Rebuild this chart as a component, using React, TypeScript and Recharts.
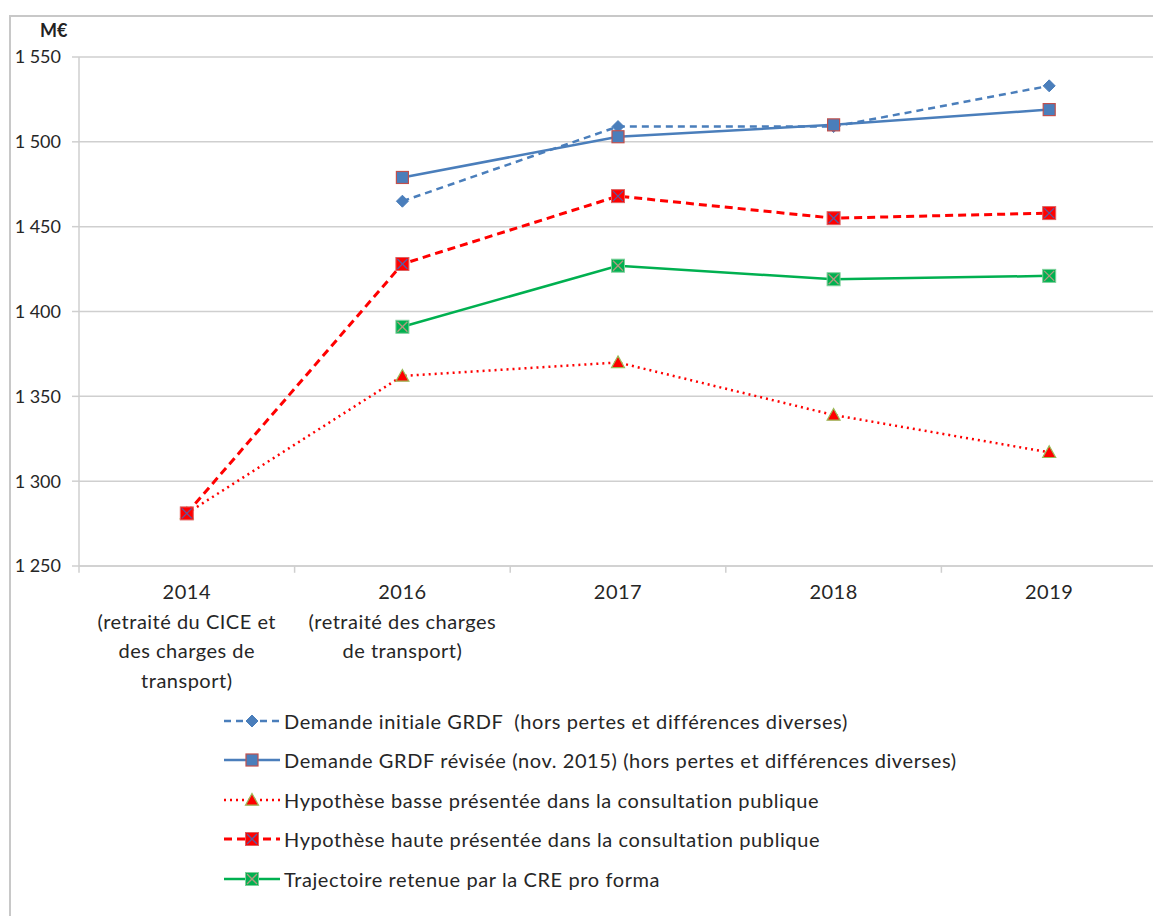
import React from 'react';
import { LineChart, Line, XAxis, YAxis, CartesianGrid, ReferenceLine, Legend } from 'recharts';

const categories = ['2014', '2016', '2017', '2018', '2019'];
const categoryLabels: string[][] = [
  ['2014', '(retraité du CICE et', 'des charges de', 'transport)'],
  ['2016', '(retraité des charges', 'de transport)'],
  ['2017'],
  ['2018'],
  ['2019'],
];
const demandeInitiale = [null, 1465, 1509, 1509, 1533];
const demandeRevisee = [null, 1479, 1503, 1510, 1519];
const hypBasse = [1281, 1362, 1370, 1339, 1317];
const hypHaute = [1281, 1428, 1468, 1455, 1458];
const trajectoire = [null, 1391, 1427, 1419, 1421];
const yTicks = [1250, 1300, 1350, 1400, 1450, 1500, 1550];
const boundaries = [-0.5, 0.5, 1.5, 2.5, 3.5, 4.5];

const data = categories.map((c, i) => ({
  idx: i,
  cat: c,
  demandeInitiale: demandeInitiale[i],
  demandeRevisee: demandeRevisee[i],
  hypBasse: hypBasse[i],
  hypHaute: hypHaute[i],
  trajectoire: trajectoire[i],
}));

const BLUE = '#4a7ebb';
const RED = '#ff0000';
const GREEN = '#00b050';
const GRID = '#cfcfcf';
const TEXT = '#262626';
const FONT = 'Lato, "Open Sans", sans-serif';

type MarkerKind = 'diamond' | 'squareBlue' | 'triangle' | 'squareRedX' | 'squareGreenX';

function Marker({ kind, cx, cy }: { kind: MarkerKind; cx: number; cy: number }) {
  if (cx == null || cy == null || isNaN(cx) || isNaN(cy)) return null;
  switch (kind) {
    case 'diamond': {
      const r = 6;
      return <polygon points={`${cx},${cy - r} ${cx + r},${cy} ${cx},${cy + r} ${cx - r},${cy}`} fill={BLUE} stroke={BLUE} strokeWidth={1} />;
    }
    case 'squareBlue': {
      const h = 6;
      return <rect x={cx - h} y={cy - h} width={2 * h} height={2 * h} fill={BLUE} stroke="#c0504d" strokeWidth={1.2} />;
    }
    case 'triangle': {
      const h = 6.5;
      return <polygon points={`${cx},${cy - h} ${cx + h},${cy + h * 0.8} ${cx - h},${cy + h * 0.8}`} fill={RED} stroke="#9bbb59" strokeWidth={1.2} />;
    }
    case 'squareRedX': {
      const h = 6.5;
      const k = 5;
      return (
        <g>
          <rect x={cx - h} y={cy - h} width={2 * h} height={2 * h} fill={RED} stroke="#e06060" strokeWidth={1} />
          <line x1={cx - k} y1={cy - k} x2={cx + k} y2={cy + k} stroke="#5a5aa0" strokeWidth={1.3} />
          <line x1={cx - k} y1={cy + k} x2={cx + k} y2={cy - k} stroke="#5a5aa0" strokeWidth={1.3} />
        </g>
      );
    }
    case 'squareGreenX': {
      const h = 6.5;
      const k = 5;
      return (
        <g>
          <rect x={cx - h} y={cy - h} width={2 * h} height={2 * h} fill={GREEN} stroke="#7fd09a" strokeWidth={1} />
          <line x1={cx - k} y1={cy - k} x2={cx + k} y2={cy + k} stroke="#b09a80" strokeWidth={1.3} />
          <line x1={cx - k} y1={cy + k} x2={cx + k} y2={cy - k} stroke="#b09a80" strokeWidth={1.3} />
        </g>
      );
    }
  }
  return null;
}

const seriesList: { key: string; name: string; color: string; dash?: string; width: number; marker: MarkerKind }[] = [
  { key: 'demandeInitiale', name: 'Demande initiale GRDF  (hors pertes et différences diverses)', color: BLUE, dash: '7 5', width: 2.5, marker: 'diamond' },
  { key: 'demandeRevisee', name: 'Demande GRDF révisée (nov. 2015) (hors pertes et différences diverses)', color: BLUE, width: 2.5, marker: 'squareBlue' },
  { key: 'hypBasse', name: 'Hypothèse basse présentée dans la consultation publique', color: RED, dash: '2 4', width: 2.5, marker: 'triangle' },
  { key: 'hypHaute', name: 'Hypothèse haute présentée dans la consultation publique', color: RED, dash: '8 5', width: 3, marker: 'squareRedX' },
  { key: 'trajectoire', name: 'Trajectoire retenue par la CRE pro forma', color: GREEN, width: 2.5, marker: 'squareGreenX' },
];

function XTick(props: any) {
  const { x, y, payload } = props;
  const lines = categoryLabels[payload.value] || [];
  return (
    <text x={x} y={y} textAnchor="middle" fill={TEXT} fontSize={20} fontFamily={FONT} letterSpacing={0.5}>
      {lines.map((l, k) => (
        <tspan key={k} x={x} dy={k === 0 ? 25 : 29.5}>
          {l}
        </tspan>
      ))}
    </text>
  );
}

function fmt(v: number) {
  const s = String(v);
  return s.length > 3 ? s.slice(0, s.length - 3) + ' ' + s.slice(-3) : s;
}

function LegendContent() {
  return (
    <div style={{ fontFamily: FONT, fontSize: 20, color: TEXT, letterSpacing: 0.6 }}>
      {seriesList.map((s) => (
        <div key={s.key} style={{ height: 39.5, display: 'flex', alignItems: 'center', whiteSpace: 'pre' }}>
          <svg width={60} height={20} style={{ marginRight: 2 }}>
            <line x1={2} y1={10} x2={58} y2={10} stroke={s.color} strokeWidth={s.width} strokeDasharray={s.dash} />
            <Marker kind={s.marker} cx={30} cy={10} />
          </svg>
          <span>{s.name}</span>
        </div>
      ))}
    </div>
  );
}

export default function App() {
  return (
    <div style={{ position: 'relative', width: 1153, height: 908, overflow: 'hidden', background: '#fff' }}>
      <div
        style={{
          position: 'absolute',
          left: 1,
          top: 7,
          width: 1160,
          height: 910,
          borderTop: '2px solid #c8c8c8',
          borderLeft: '2px solid #c8c8c8',
          boxSizing: 'border-box',
        }}
      />
      <div
        style={{
          position: 'absolute',
          left: 32,
          top: 11,
          fontFamily: FONT,
          fontWeight: 'bold',
          fontSize: 18,
          color: '#222',
        }}
      >
        M€
      </div>
      <LineChart
        width={1153}
        height={908}
        data={data}
        margin={{ top: 49, right: 4, bottom: 270, left: 0 }}
        style={{ position: 'absolute', left: 0, top: 0 }}
      >
        <CartesianGrid vertical={false} stroke={GRID} strokeWidth={1.5} />
        <XAxis
          dataKey="idx"
          type="number"
          domain={[-0.5, 4.5]}
          ticks={[0, 1, 2, 3, 4]}
          interval={0}
          tickLine={false}
          axisLine={{ stroke: GRID, strokeWidth: 1.5 }}
          tick={<XTick />}
          height={80}
        />
        <YAxis
          domain={[1250, 1550]}
          ticks={yTicks}
          interval={0}
          width={71}
          tickSize={7}
          tickMargin={11}
          tickFormatter={fmt}
          tickLine={{ stroke: GRID, strokeWidth: 1.5 }}
          axisLine={{ stroke: GRID, strokeWidth: 1.5 }}
          tick={{ fill: TEXT, fontSize: 18, fontFamily: FONT }}
        />
        {boundaries.map((b) => (
          <ReferenceLine
            key={b}
            segment={[
              { x: b, y: 1250 },
              { x: b, y: 1246 },
            ]}
            stroke={GRID}
            strokeWidth={1.5}
            ifOverflow="visible"
          />
        ))}
        {seriesList.map((s) => (
          <Line
            key={s.key}
            dataKey={s.key}
            name={s.name}
            type="linear"
            stroke={s.color}
            strokeWidth={s.width}
            strokeDasharray={s.dash}
            isAnimationActive={false}
            connectNulls={false}
            dot={(p: any) => <Marker key={`${s.key}-${p.index}`} kind={s.marker} cx={p.cx} cy={p.cy} />}
            activeDot={false}
          />
        ))}
        <Legend
          layout="vertical"
          align="center"
          verticalAlign="middle"
          content={<LegendContent />}
          wrapperStyle={{ position: 'absolute', left: 214, top: 693, width: 940 }}
        />
      </LineChart>
    </div>
  );
}
